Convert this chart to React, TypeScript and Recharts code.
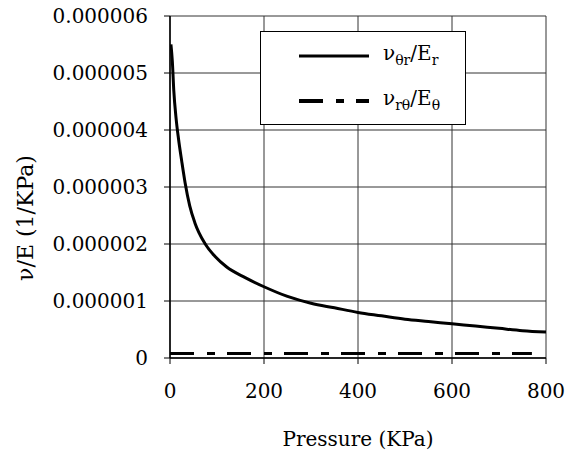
import React from "react";
import {
  LineChart, Line, XAxis, YAxis, CartesianGrid, Legend,
} from "recharts";

// ── data ───────────────────────────────────────────────────────────────────
const pressure = [2, 5, 8, 13, 18, 25, 32, 42, 53, 75, 96, 120, 160, 200, 250, 300, 350, 400, 450, 500, 550, 600, 650, 700, 750, 800];
const nuThetaROverEr = [
  5.5e-6, 5.2e-6, 4.7e-6, 4.2e-6, 3.85e-6, 3.45e-6, 3.08e-6, 2.67e-6, 2.37e-6, 2.0e-6, 1.78e-6, 1.6e-6, 1.41e-6,
  1.25e-6, 1.08e-6, 0.96e-6, 0.88e-6, 0.8e-6, 0.74e-6, 0.68e-6, 0.64e-6, 0.6e-6, 0.56e-6, 0.52e-6, 0.48e-6, 0.456e-6,
];
const flatPressure = [0, 770];
const nuRThetaOverEtheta = [0.08e-6, 0.08e-6];

const xTicks = [0, 200, 400, 600, 800];
const yTicks = [0, 1e-6, 2e-6, 3e-6, 4e-6, 5e-6, 6e-6];

const curve = pressure.map((p, i) => ({ p, v: nuThetaROverEr[i] }));
const flat = flatPressure.map((p, i) => ({ p, v: nuRThetaOverEtheta[i] }));

const FONT = "'DejaVu Serif', 'Times New Roman', Times, serif";
const DASH = "24 13 8 12";

function LegendBox() {
  const row: React.CSSProperties = { position: "absolute", left: 0, display: "flex", alignItems: "center" };
  const txt: React.CSSProperties = { position: "absolute", left: 122, fontSize: 20, whiteSpace: "nowrap", lineHeight: "22px" };
  return (
    <div style={{ position: "relative", width: 206, height: 94, background: "#fff", border: "1px solid #000", boxSizing: "border-box", fontFamily: FONT }}>
      <div style={{ ...row, top: 12, width: "100%" }}>
        <svg width={120} height={24}><line x1={38} x2={108} y1={12} y2={12} stroke="#000" strokeWidth={3} /></svg>
        <span style={txt}>ν<sub style={{ fontSize: 14 }}>θr</sub>/E<sub style={{ fontSize: 14 }}>r</sub></span>
      </div>
      <div style={{ ...row, top: 57, width: "100%" }}>
        <svg width={120} height={24}><line x1={38} x2={108} y1={12} y2={12} stroke="#000" strokeWidth={4} strokeDasharray={DASH} /></svg>
        <span style={txt}>ν<sub style={{ fontSize: 14 }}>rθ</sub>/E<sub style={{ fontSize: 14 }}>θ</sub></span>
      </div>
    </div>
  );
}

export default function App() {
  const tick = { fontSize: 20, fill: "#000", fontFamily: FONT };
  return (
    <div style={{ position: "absolute", left: 0, top: 0, width: 565, height: 454, background: "#fff", fontFamily: FONT }}>
      <LineChart width={565} height={454} margin={{ top: 16, right: 19, left: 0, bottom: 0 }} style={{ fontFamily: FONT }}>
        <CartesianGrid stroke="#333" strokeWidth={1} />
        <XAxis
          type="number" dataKey="p" domain={[0, 800]} ticks={xTicks} allowDataOverflow
          tick={tick} tickSize={6} tickMargin={20} height={96}
          axisLine={{ stroke: "#000", strokeWidth: 1.5 }} tickLine={{ stroke: "#000" }}
          label={{ value: "Pressure (KPa)", position: "insideBottom", offset: 8, style: { fontSize: 20, fill: "#000", fontFamily: FONT } }}
        />
        <YAxis
          type="number" domain={[0, 6e-6]} ticks={yTicks} width={170}
          tickFormatter={(v: number) => (v === 0 ? "0" : v.toFixed(6))}
          tick={tick} tickSize={6} tickMargin={16}
          axisLine={{ stroke: "#000", strokeWidth: 1.5 }} tickLine={{ stroke: "#000" }}
          label={{ value: "ν/E (1/KPa)", angle: -90, position: "center", dx: -60, dy: 31, style: { fontSize: 22, fill: "#000", fontFamily: FONT, textAnchor: "middle" } }}
        />
        <Legend
          layout="vertical" align="center" verticalAlign="middle"
          wrapperStyle={{ left: 260, top: 31, width: 206, height: 94 }}
          content={() => <LegendBox />}
        />
        <Line data={curve} dataKey="v" type="monotone" stroke="#000" strokeWidth={3} dot={false} isAnimationActive={false} />
        <Line data={flat} dataKey="v" type="linear" stroke="#000" strokeWidth={3} strokeDasharray={DASH} dot={false} isAnimationActive={false} />
      </LineChart>
    </div>
  );
}
